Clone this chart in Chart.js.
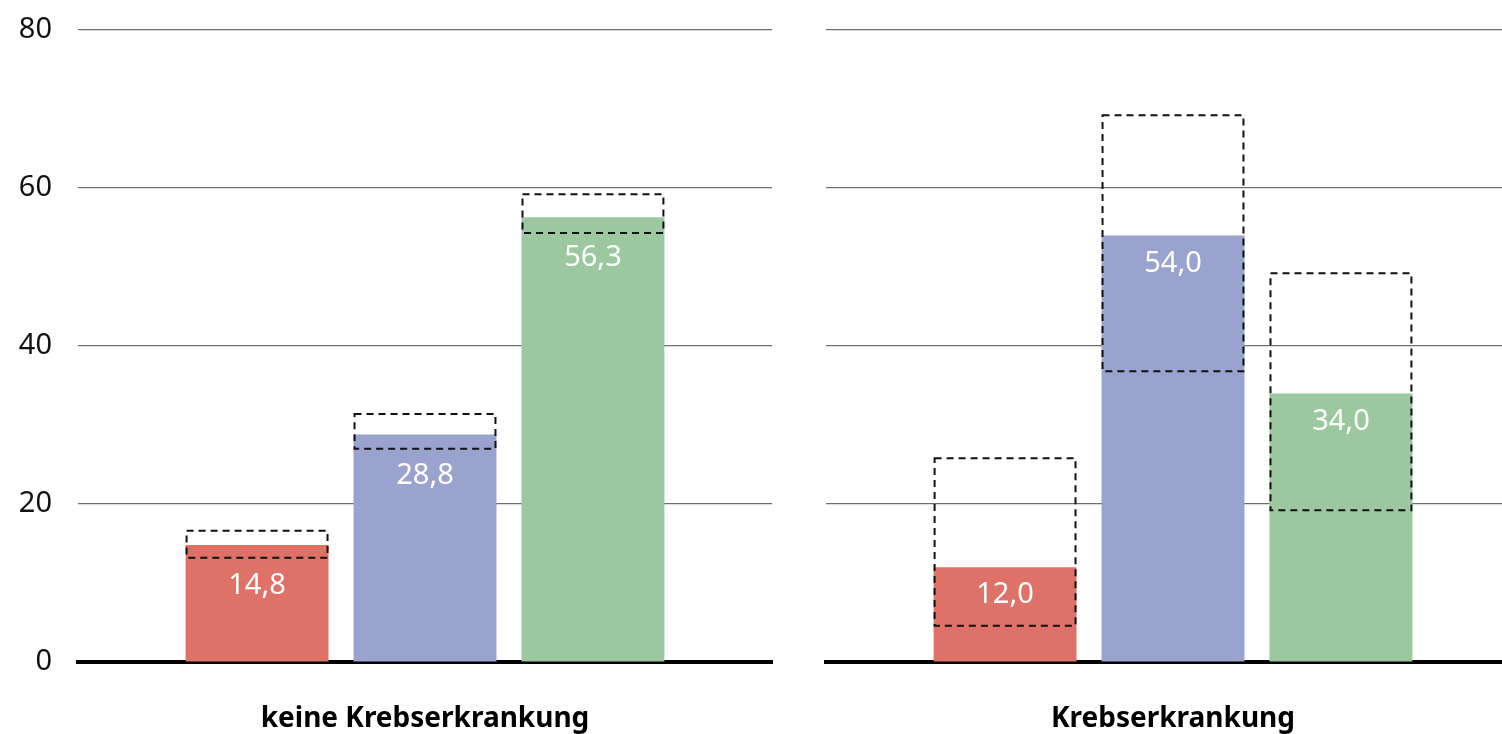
<!DOCTYPE html>
<html>
<head>
<meta charset="utf-8">
<script src="https://cdn.jsdelivr.net/npm/chart.js@4"></script>
<style>
  html, body { margin:0; padding:0; background:#fff; overflow:hidden; }
  .wrap { position:relative; width:1502px; height:734px; overflow:hidden; }
  .wrap canvas { position:absolute; top:0; }
  #left { left:0; }
  #right { left:800px; }
</style>
</head>
<body>
<div class="wrap">
  <canvas id="left" width="800" height="734"></canvas>
  <canvas id="right" width="748" height="734"></canvas>
</div>
<script>
// Daten
const panels = ['keine Krebserkrankung', 'Krebserkrankung']
const redValues = [14.8, 12.0]
const blueValues = [28.8, 54.0]
const greenValues = [56.3, 34.0]
// Konfidenzintervalle (unten / oben)
const redLow = [13.2, 4.6]
const redHigh = [16.6, 25.8]
const blueLow = [27.0, 36.8]
const blueHigh = [31.4, 69.2]
const greenLow = [54.3, 19.2]
const greenHigh = [59.2, 49.2]
const yTicks = [0, 20, 40, 60, 80]

const colors = ['#de7168', '#9aa2ce', '#9bc89e']
const fontFamily = '"Noto Sans", "Open Sans", sans-serif'

// gestrichelte Kästen + weiße Werte
const ciPlugin = {
  id: 'ciBoxes',
  afterDatasetsDraw(chart, args, opts) {
    const ctx = chart.ctx
    const y = chart.scales.y
    chart.data.datasets.forEach((ds, i) => {
      const meta = chart.getDatasetMeta(i)
      meta.data.forEach((bar, j) => {
        const top = y.getPixelForValue(ds.ciHigh[j])
        const bottom = y.getPixelForValue(ds.ciLow[j])
        const left = bar.x - bar.width / 2
        ctx.save()
        ctx.strokeStyle = '#111'
        ctx.lineWidth = 2
        ctx.setLineDash([7, 5])
        ctx.strokeRect(left + 1, top, bar.width - 2, bottom - top)
        ctx.restore()
      })
    })
    chart.data.datasets.forEach((ds, i) => {
      const meta = chart.getDatasetMeta(i)
      meta.data.forEach((bar, j) => {
        ctx.save()
        ctx.fillStyle = '#fff'
        ctx.font = '29px ' + fontFamily
        ctx.textAlign = 'center'
        ctx.textBaseline = 'middle'
        ctx.fillText(ds.data[j].toFixed(1).replace('.', ','), bar.x, bar.y + opts.labelOffset)
        ctx.restore()
      })
    })
  }
}

function makeChart(id, idx, showTicks, labelOffset) {
  const ctx = document.getElementById(id).getContext('2d')
  return new Chart(ctx, {
    type: 'bar',
    data: {
      labels: [panels[idx]],
      datasets: [
        { label: 'a', data: [redValues[idx]], ciLow: [redLow[idx]], ciHigh: [redHigh[idx]], backgroundColor: colors[0] },
        { label: 'b', data: [blueValues[idx]], ciLow: [blueLow[idx]], ciHigh: [blueHigh[idx]], backgroundColor: colors[1] },
        { label: 'c', data: [greenValues[idx]], ciLow: [greenLow[idx]], ciHigh: [greenHigh[idx]], backgroundColor: colors[2] }
      ]
    },
    options: {
      responsive: false,
      animation: false,
      devicePixelRatio: 1,
      categoryPercentage: 0.726,
      barPercentage: 0.851,
      layout: {
        padding: showTicks ? { top: 30, right: 28, left: 0, bottom: 0 } : { top: 30, right: 28, left: 26, bottom: 0 }
      },
      plugins: {
        legend: { display: false },
        tooltip: { enabled: false },
        ciBoxes: { labelOffset: labelOffset }
      },
      scales: {
        x: {
          grid: { display: false, drawTicks: false },
          border: { display: true, color: '#000', width: 4 },
          afterFit: (s) => { s.height = 72; s.paddingLeft = 0; s.paddingRight = 0 },
          ticks: {
            padding: 40,
            color: '#000',
            font: { family: fontFamily, size: 28, weight: 'bold' }
          }
        },
        y: {
          min: 0,
          max: 80,
          afterBuildTicks: (s) => { s.ticks = yTicks.map(v => ({ value: v })) },
          afterFit: (s) => { s.width = showTicks ? 78 : 0; s.paddingTop = 0; s.paddingBottom = 0 },
          border: { display: false },
          grid: { color: '#6e6e6e', lineWidth: 1.2, drawTicks: false },
          ticks: {
            display: showTicks,
            padding: 26,
            color: '#111',
            font: { family: fontFamily, size: 29 }
          }
        }
      }
    },
    plugins: [ciPlugin]
  })
}

makeChart('left', 0, true, 41)
makeChart('right', 1, false, 28)
</script>
</body>
</html>
